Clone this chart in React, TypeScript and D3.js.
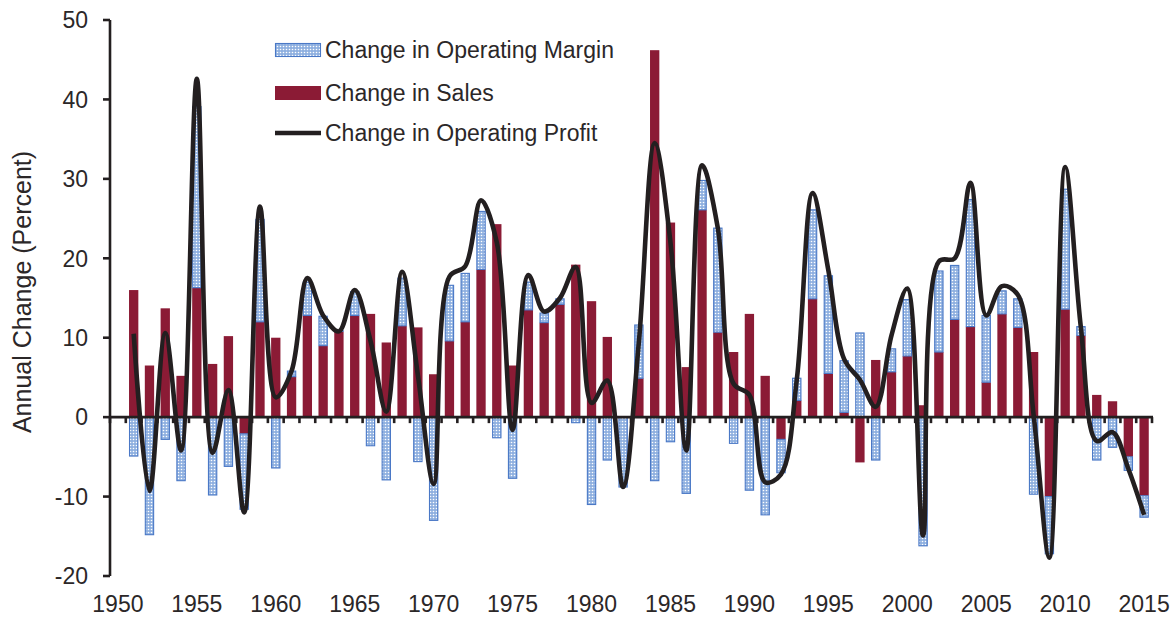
import * as d3 from "d3";

// years 1951..2015; 1950 is an empty slot on the category axis
const years = d3.range(1951, 2016);
const sales = [
  16.0, 6.5, 13.7, 5.2, 16.3, 6.7, 10.2, -2.1, 12.0, 10.0,
  5.1, 12.8, 9.0, 10.8, 12.8, 13.0, 9.4, 11.5, 11.3, 5.4,
  9.6, 12.0, 18.6, 24.3, 6.5, 13.5, 11.9, 14.2, 19.2, 14.6,
  10.1, 0.0, 4.9, 46.2, 24.5, 6.3, 26.1, 10.7, 8.2, 13.0,
  5.2, -2.8, 2.1, 14.9, 5.5, 0.6, -5.7, 7.2, 5.7, 7.7,
  1.5, 8.2, 12.3, 11.4, 4.4, 13.0, 11.3, 8.2, -10.0, 13.6,
  10.3, 2.8, 2.0, -5.0, -9.9,
];
const margin = [
  -4.9, -14.8, -2.8, -8.0, 22.8, -9.8, -6.2, -9.5, 12.9, -6.4,
  0.7, 4.2, 3.7, 0.1, 3.0, -3.6, -7.9, 6.0, -5.6, -13.0,
  7.0, 6.1, 7.3, -2.6, -7.7, 3.5, 1.2, 0.7, -0.7, -11.0,
  -5.4, -8.8, 6.7, -8.0, -3.1, -9.6, 3.7, 13.1, -3.3, -9.2,
  -12.3, -4.2, 2.8, 11.2, 12.3, 6.5, 10.6, -5.4, 2.9, 7.1,
  -16.2, 10.2, 6.8, 16.0, 8.4, 2.9, 3.6, -9.7, -7.2, 15.1,
  1.1, -5.4, -3.8, -1.7, -2.7,
];
const profit = [
  10.5, -9.3, 10.6, -4.2, 42.6, -4.5, 3.4, -12.0, 26.5, 2.5,
  5.8, 17.5, 12.8, 10.8, 16.0, 9.6, 0.7, 18.3, 5.3, -8.4,
  17.7, 19.0, 27.3, 22.0, -1.6, 17.9, 13.3, 15.0, 18.9, 1.8,
  4.6, -8.8, 9.5, 34.5, 22.0, -4.2, 31.7, 23.8, 4.2, 2.8,
  -8.2, -7.2, 4.7, 28.2, 18.5, 7.3, 4.7, 1.3, 10.3, 16.2,
  -14.9, 19.6, 20.0, 29.5, 12.8, 16.5, 15.4, 0.3, -17.7, 31.5,
  11.2, -3.0, -1.9, -6.5, -12.3,
];
const yTicks = [-20, -10, 0, 10, 20, 30, 40, 50];
const xLabels = [1950, 1955, 1960, 1965, 1970, 1975, 1980, 1985, 1990, 1995, 2000, 2005, 2010, 2015];

const W = 1175;
const H = 618;
const INK = "#231f20";
const TXT = "#2b2728";
const RED = "#8b1b35";
const FONT = "'Liberation Sans', Arial, sans-serif";

const App = () => {
  const slots = d3.range(1950, 2016);
  const x = d3.scaleBand<number>().domain(slots).range([110, 1152]).padding(0);
  const y = d3.scaleLinear().domain([-20, 50]).range([576, 20]);
  const bw = x.bandwidth();
  const barW = bw * 0.59;
  const cx = (yr: number) => (x(yr) as number) + bw / 2;

  const rows = years.map((yr, i) => ({ year: yr, sales: sales[i], margin: margin[i] }));
  const stacked = d3
    .stack<{ year: number; sales: number; margin: number }>()
    .keys(["sales", "margin"])
    .offset(d3.stackOffsetDiverging)(rows);

  const line = d3
    .line<number>()
    .x((_, i) => cx(years[i]))
    .y((d) => y(d))
    .curve(d3.curveCatmullRom.alpha(0.5));

  const boundaries = slots.map((s) => x(s) as number).concat([1152]);

  return (
    <svg width={W} height={H} style={{ position: "absolute", left: 0, top: 0 }} fontFamily={FONT}>
      <defs>
        <pattern id="dots" width="3" height="3" patternUnits="userSpaceOnUse">
          <rect width="3" height="3" fill="#8fb0e0" />
          <circle cx="1.5" cy="1.5" r="0.8" fill="#ffffff" />
        </pattern>
      </defs>
      <rect width={W} height={H} fill="#fff" />

      {/* bars */}
      {stacked.map((series) => (
        <g key={series.key}>
          {series.map((d) => {
            const top = y(Math.max(d[0], d[1]));
            const bot = y(Math.min(d[0], d[1]));
            const bx = cx(d.data.year) - barW / 2;
            return series.key === "sales" ? (
              <rect key={d.data.year} x={bx} y={top} width={barW} height={bot - top} fill={RED} />
            ) : (
              <rect
                key={d.data.year}
                x={bx + 0.5}
                y={top}
                width={barW - 1}
                height={bot - top}
                fill="url(#dots)"
                stroke="#4a78c6"
                strokeWidth={1.1}
              />
            );
          })}
        </g>
      ))}

      {/* y axis */}
      <line x1={110} x2={110} y1={y(50)} y2={y(-20)} stroke={INK} strokeWidth={2.6} />
      {yTicks.map((t) => (
        <g key={t}>
          <line x1={103} x2={110} y1={y(t)} y2={y(t)} stroke={INK} strokeWidth={2.6} />
          <text x={88} y={y(t)} dy="0.36em" textAnchor="end" fontSize={23} fill={TXT}>
            {t}
          </text>
        </g>
      ))}
      <text
        transform={`translate(31,292) rotate(-90)`}
        textAnchor="middle"
        fontSize={25}
        fill={TXT}
      >
        Annual Change (Percent)
      </text>

      {/* x axis */}
      <line x1={110} x2={1153} y1={y(0)} y2={y(0)} stroke={INK} strokeWidth={2.6} />
      {boundaries.map((b, i) => (
        <line key={i} x1={b} x2={b} y1={y(0)} y2={y(0) + 6} stroke={INK} strokeWidth={2.6} />
      ))}
      {xLabels.map((l) => (
        <text key={l} x={cx(l)} y={612} textAnchor="middle" fontSize={23} fill={TXT}>
          {l}
        </text>
      ))}

      {/* profit line */}
      <path d={line(profit) as string} fill="none" stroke={INK} strokeWidth={4.6} strokeLinejoin="round" />

      {/* legend */}
      <g fontSize={23} fill={TXT}>
        <rect x={275.5} y={43.5} width={45} height={13} fill="url(#dots)" stroke="#4a78c6" strokeWidth={1.1} />
        <text x={325} y={50} dy="0.36em">Change in Operating Margin</text>
        <rect x={275} y={86} width={46} height={14} fill={RED} />
        <text x={325} y={93} dy="0.36em">Change in Sales</text>
        <line x1={275} x2={321} y1={133} y2={133} stroke={INK} strokeWidth={4.6} />
        <text x={325} y={133} dy="0.36em">Change in Operating Profit</text>
      </g>
    </svg>
  );
};

export default App;
